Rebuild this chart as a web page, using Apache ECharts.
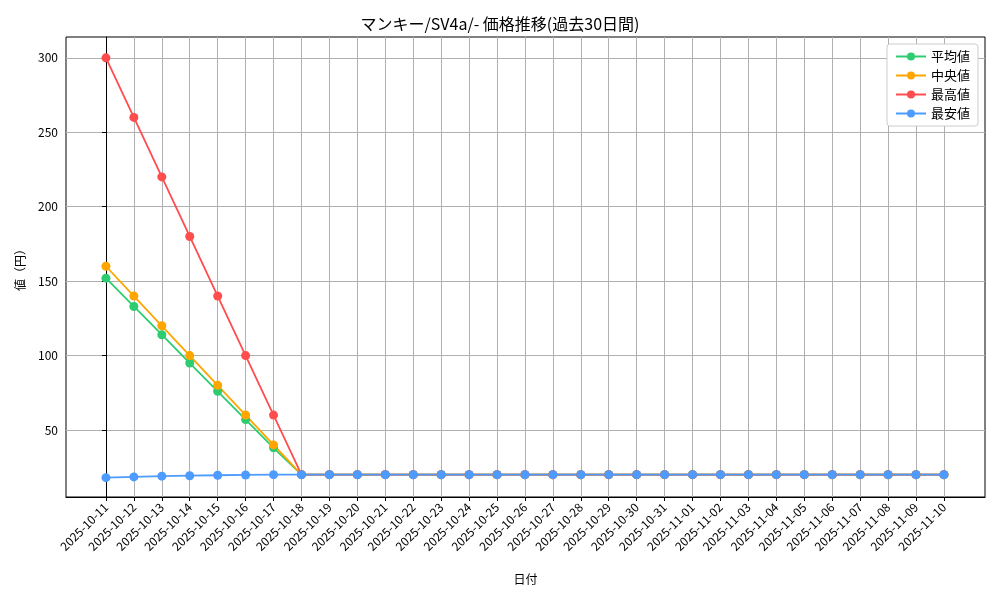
<!DOCTYPE html>
<html>
<head>
<meta charset="utf-8">
<script src="https://cdn.jsdelivr.net/npm/echarts@6/dist/echarts.min.js"></script>
<style>html,body{margin:0;background:#fff}#c{width:1000px;height:600px}</style>
</head>
<body>
<div id="c"></div>
<script>
// 日付
const dates = [];
for (let d = 11; d <= 31; d++) dates.push('2025-10-' + d);
for (let d = 1; d <= 10; d++) dates.push('2025-11-' + String(d).padStart(2, '0'));

// 価格データ
const avgPrices = [152, 133, 114, 95, 76, 57, 38, 20, 20, 20, 20, 20, 20, 20, 20, 20, 20, 20, 20, 20, 20, 20, 20, 20, 20, 20, 20, 20, 20, 20, 20];
const medianPrices = [160, 140, 120, 100, 80, 60, 40, 20, 20, 20, 20, 20, 20, 20, 20, 20, 20, 20, 20, 20, 20, 20, 20, 20, 20, 20, 20, 20, 20, 20, 20];
const maxPrices = [300, 260, 220, 180, 140, 100, 60, 20, 20, 20, 20, 20, 20, 20, 20, 20, 20, 20, 20, 20, 20, 20, 20, 20, 20, 20, 20, 20, 20, 20, 20];
const minPrices = [18, 18.5, 19, 19.3, 19.6, 19.8, 20, 20, 20, 20, 20, 20, 20, 20, 20, 20, 20, 20, 20, 20, 20, 20, 20, 20, 20, 20, 20, 20, 20, 20, 20];
const yTicks = [50, 100, 150, 200, 250, 300];

const font = '"Noto Sans CJK JP", sans-serif';
const idx = dates.map((_, i) => i);
const toXY = arr => arr.map((v, i) => [i, v]);

function line(name, data, color) {
    return {
        name, type: 'line', data: toXY(data),
        symbol: 'circle', symbolSize: 9,
        lineStyle: { color, width: 1.8 },
        itemStyle: { color }
    };
}

const chart = echarts.init(document.getElementById('c'));
chart.setOption({
    animation: false,
    textStyle: { fontFamily: font },
    title: {
        text: 'マンキー/SV4a/- 価格推移(過去30日間)',
        left: 'center', top: 11,
        textStyle: { fontSize: 16, fontWeight: 'normal', color: '#000', fontFamily: font }
    },
    legend: {
        right: 22, top: 44, orient: 'vertical', itemGap: 6,
        itemWidth: 30, itemHeight: 10,
        backgroundColor: '#fff', borderColor: '#ccc', borderWidth: 1, borderRadius: 3,
        padding: [6, 8],
        textStyle: { fontSize: 13, color: '#000' },
        data: ['平均値', '中央値', '最高値', '最安値']
    },
    grid: { left: 66, right: 15, top: 37, bottom: 103, show: true, borderColor: '#000', borderWidth: 1 },
    xAxis: {
        type: 'value', min: -1.43, max: 31.47,
        name: '日付', nameLocation: 'middle', nameGap: 76,
        nameTextStyle: { fontSize: 12, color: '#000' },
        axisLine: { show: true, lineStyle: { color: '#000' } },
        axisTick: { show: true, inside: false, customValues: idx, length: 4, lineStyle: { color: '#000' } },
        axisLabel: {
            customValues: idx, rotate: 45, fontSize: 12, color: '#000',
            formatter: v => dates[Math.round(v)] || ''
        },
        splitLine: { show: true, lineStyle: { color: '#b0b0b0', width: 1 } }
    },
    yAxis: {
        type: 'value', min: 5, max: 314,
        name: '値（円）', nameLocation: 'middle', nameGap: 40,
        nameTextStyle: { fontSize: 12, color: '#000' },
        axisLine: { show: true, lineStyle: { color: '#000' } },
        axisTick: { show: true, inside: false, customValues: yTicks, length: 4, lineStyle: { color: '#000' } },
        axisLabel: { customValues: yTicks, fontSize: 12, color: '#000' },
        splitLine: { show: true, lineStyle: { color: '#b0b0b0', width: 1 } }
    },
    series: [
        line('平均値', avgPrices, '#2ecc71'),
        line('中央値', medianPrices, '#ffa500'),
        line('最高値', maxPrices, '#ff4d4d'),
        line('最安値', minPrices, '#4d9bff')
    ]
});
</script>
</body>
</html>
